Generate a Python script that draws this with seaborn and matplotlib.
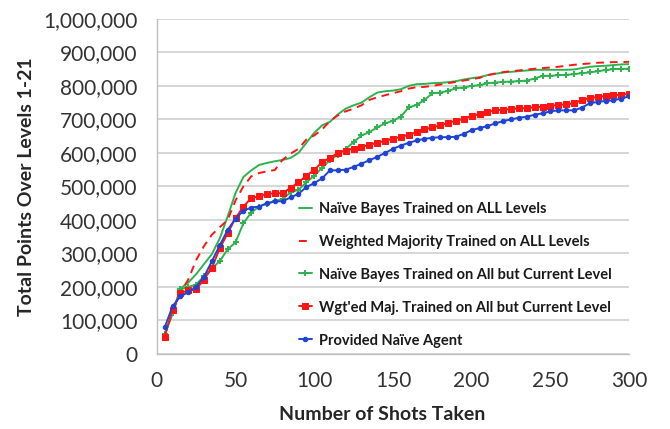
import numpy as np
import pandas as pd
import seaborn as sns
import matplotlib.pyplot as plt
from matplotlib.ticker import FuncFormatter, MultipleLocator

# shots taken, every 5 shots
shots = list(range(5, 305, 5))

# total points (thousands)
nb_all = [60, 120, 195, 213, 238, 268, 298, 345, 410, 480,
          528, 548, 564, 570, 575, 579, 585, 600, 630, 660,
          682, 693, 715, 732, 742, 750, 766, 780, 784, 786,
          790, 800, 805, 806, 808, 809, 811, 814, 819, 823,
          826, 832, 836, 840, 842, 844, 846, 848, 848, 848,
          848, 848, 849, 853, 857, 859, 860, 862, 864, 865]
wm_all = [55, 125, 182, 222, 280, 322, 356, 378, 400, 458,
          500, 530, 540, 545, 549, 580, 598, 612, 640, 652,
          670, 695, 712, 724, 732, 742, 758, 766, 772, 778,
          784, 792, 796, 797, 800, 804, 808, 812, 816, 820,
          824, 832, 837, 841, 844, 846, 849, 851, 853, 855,
          857, 860, 863, 865, 867, 869, 870, 871, 871, 872]
nb_but = [58, 122, 193, 200, 207, 232, 255, 277, 312, 333,
          390, 422, 440, 448, 456, 463, 482, 490, 512, 532,
          556, 578, 595, 612, 632, 652, 662, 676, 688, 696,
          708, 736, 743, 758, 778, 780, 785, 793, 795, 800,
          802, 808, 810, 812, 813, 814, 816, 822, 830, 830,
          832, 833, 835, 838, 840, 844, 847, 850, 851, 851]
wm_but = [52, 132, 181, 190, 193, 222, 257, 315, 360, 405,
          440, 465, 470, 478, 479, 480, 496, 512, 532, 549,
          572, 585, 600, 607, 613, 618, 624, 630, 636, 642,
          648, 654, 662, 670, 676, 682, 690, 696, 702, 710,
          716, 722, 727, 729, 731, 733, 734, 736, 738, 741,
          743, 745, 748, 758, 764, 767, 770, 772, 774, 776]
naive = [79, 142, 172, 184, 200, 230, 277, 324, 370, 404,
         427, 437, 440, 450, 455, 456, 467, 478, 498, 510,
         524, 548, 548, 550, 558, 568, 578, 588, 600, 612,
         622, 630, 637, 642, 645, 647, 647, 648, 657, 668,
         674, 680, 688, 695, 700, 705, 708, 714, 718, 724,
         727, 727, 727, 735, 748, 752, 755, 757, 762, 769]

labels = ["Naïve Bayes Trained on ALL Levels",
          "Weighted Majority Trained on ALL Levels",
          "Naïve Bayes Trained on All but Current Level",
          "Wgt'ed Maj. Trained on All but Current Level",
          "Provided Naïve Agent"]

sns.set_theme(style="white")
plt.rcParams['font.family'] = ['Lato', 'DejaVu Sans']

green = '#2db34e'
red = '#ff1414'
blue = '#1f44d4'

fig, ax = plt.subplots(figsize=(6.7, 4.29), dpi=100)
fig.subplots_adjust(left=0.234, right=0.939, top=0.956, bottom=0.175)

def pts(v):
    return np.array(v) * 1000

sns.lineplot(x=shots, y=pts(nb_all), ax=ax, color=green, lw=1.4,
             linestyle='-', label=labels[0])
sns.lineplot(x=shots, y=pts(wm_all), ax=ax, color=red, lw=1.4,
             linestyle=(0, (4, 3)), label=labels[1])
sns.lineplot(x=shots, y=pts(nb_but), ax=ax, color=green, lw=1.4, linestyle='-',
             marker='+', markersize=5, mew=1.4, mec=green, label=labels[2])
sns.lineplot(x=shots, y=pts(wm_but), ax=ax, color=red, lw=1.4, linestyle='-',
             marker='s', markersize=4.5, mec=red, label=labels[3])
sns.lineplot(x=shots, y=pts(naive), ax=ax, color=blue, lw=1.4, linestyle='-',
             marker='o', markersize=3.2, mec=blue, label=labels[4])

ax.set_xlim(0, 300)
ax.set_ylim(0, 1000000)
ax.xaxis.set_major_locator(MultipleLocator(50))
ax.yaxis.set_major_locator(MultipleLocator(100000))
ax.yaxis.set_major_formatter(FuncFormatter(lambda v, p: f"{int(v):,}"))
ax.grid(axis='y', color='#d0d0d0', lw=1.2)
ax.set_axisbelow(True)
for s in ['top', 'right']:
    ax.spines[s].set_visible(False)
for s in ['left', 'bottom']:
    ax.spines[s].set_color('#bfbfbf')
    ax.spines[s].set_linewidth(1)
ax.tick_params(axis='both', which='major', length=5, width=1, color='#bfbfbf',
               labelsize=15, labelcolor='#333333', direction='out', pad=9)
ax.tick_params(axis='x', pad=7)
ax.set_xlabel("Number of Shots Taken", fontsize=14, fontweight='bold')
ax.set_ylabel("Total Points Over Levels 1-21", fontsize=14, fontweight='bold')
ax.xaxis.set_label_coords(0.477, -0.155)
ax.yaxis.set_label_coords(-0.258, 0.5)

leg = ax.legend(loc='lower left', bbox_to_anchor=(0.273, -0.02), frameon=False,
                fontsize=10.5, handlelength=0.9, handletextpad=0.45,
                labelspacing=1.3)
for t in leg.get_texts():
    t.set_fontweight('bold')
    t.set_color('#1a1a1a')

fig.savefig('out.png', dpi=100)
